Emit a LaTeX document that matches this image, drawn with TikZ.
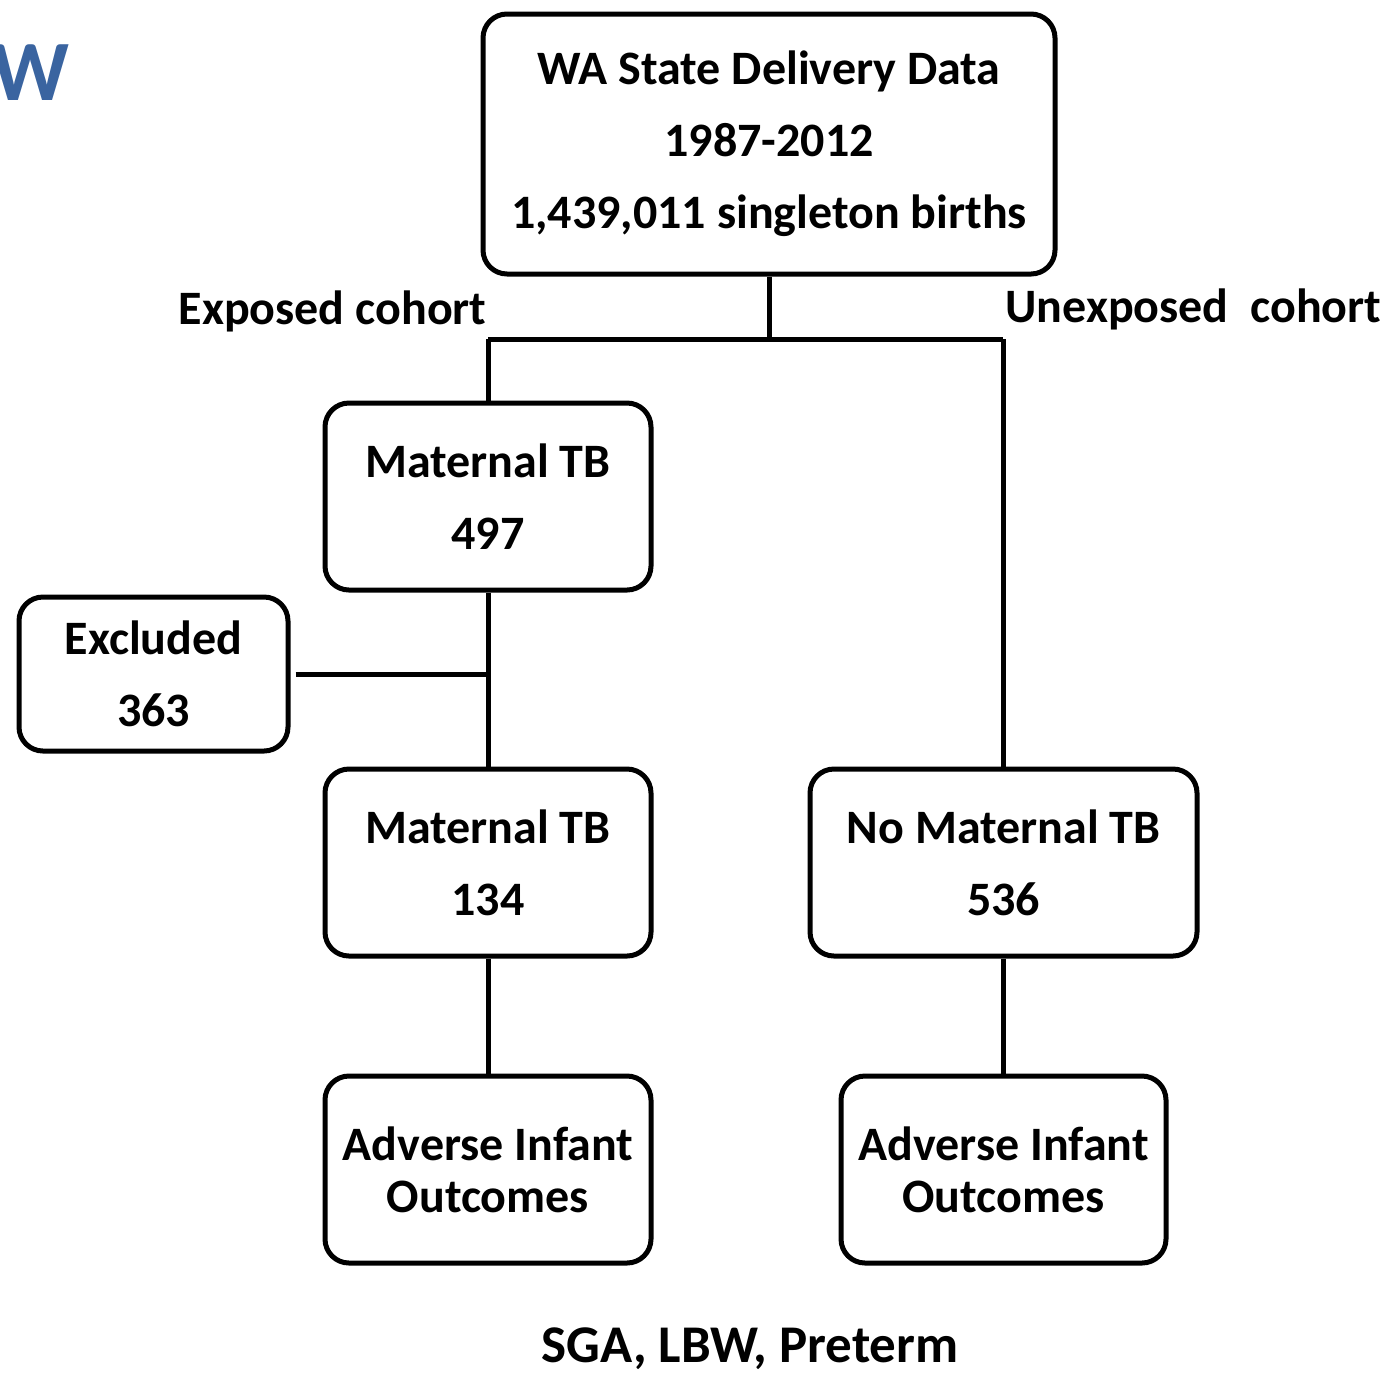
\documentclass[tikz,border=0pt]{standalone}
\usepackage{fontspec}
\setmainfont{Carlito}
\definecolor{titleblue}{HTML}{3A64A0}
\begin{document}
\begin{tikzpicture}[x=0.5pt,y=-0.5pt,
  line width=2.5pt,
  stepbox/.style={draw, rounded corners=12pt, align=center, inner sep=0pt,
    font=\bfseries\fontsize{24}{36}\selectfont},
  tightbox/.style={stepbox, font=\bfseries\fontsize{24}{26}\selectfont},
  label/.style={inner sep=0pt, font=\bfseries\fontsize{24}{30}\selectfont}]
\useasboundingbox (0,0) rectangle (1384,1372);

% heading fragment
\node[anchor=base east, inner sep=0pt, text=titleblue,
  font=\bfseries\fontsize{43}{50}\selectfont] (head) at (72,100) {W};

% boxes
\node[stepbox, minimum width=286pt, minimum height=130pt] (top) at (769,144)
  {WA State Delivery Data\\1987-2012\\1,439,011 singleton births};
\node[stepbox, minimum width=163pt, minimum height=93.5pt] (mtbA) at (488,496.5)
  {Maternal TB\\497};
\node[stepbox, minimum width=134.5pt, minimum height=77pt] (excl) at (153.5,674)
  {Excluded\\363};
\node[stepbox, minimum width=163pt, minimum height=93.5pt] (mtbB) at (488,862.5)
  {Maternal TB\\134};
\node[stepbox, minimum width=193.5pt, minimum height=93.5pt] (nomtb) at (1003.5,862.5)
  {No Maternal TB\\536};
\node[tightbox, minimum width=163pt, minimum height=93.5pt] (advL) at (488,1169.5)
  {Adverse Infant\\Outcomes};
\node[tightbox, minimum width=162.5pt, minimum height=93.5pt] (advR) at (1003.5,1169.5)
  {Adverse Infant\\Outcomes};

% labels
\node[label, anchor=base east] (exp) at (489,324) {Exposed cohort};
\node[label, anchor=base west] (unexp) at (1003,322) {Unexposed\ \ cohort};
\node[label, font=\bfseries\fontsize{26.5}{32}\selectfont, anchor=base] (outc) at (750,1362) {SGA, LBW, Preterm};

% connectors
\coordinate (split) at (769,339);
\coordinate (lsplit) at (488,339);
\coordinate (rsplit) at (1003,339);
\coordinate (ejoin) at (488,674);
\draw (top.south) -- (split);
\draw (lsplit) -- (rsplit);
\draw (lsplit) -- (mtbA.north);
\draw (rsplit) -- (rsplit |- nomtb.north);
\draw (mtbA.south) -- (mtbB.north);
\draw ([xshift=2.5pt]excl.east) -- (ejoin);
\draw (mtbB.south) -- (advL.north);
\draw (nomtb.south -| rsplit) -- (advR.north -| rsplit);
\end{tikzpicture}
\end{document}
